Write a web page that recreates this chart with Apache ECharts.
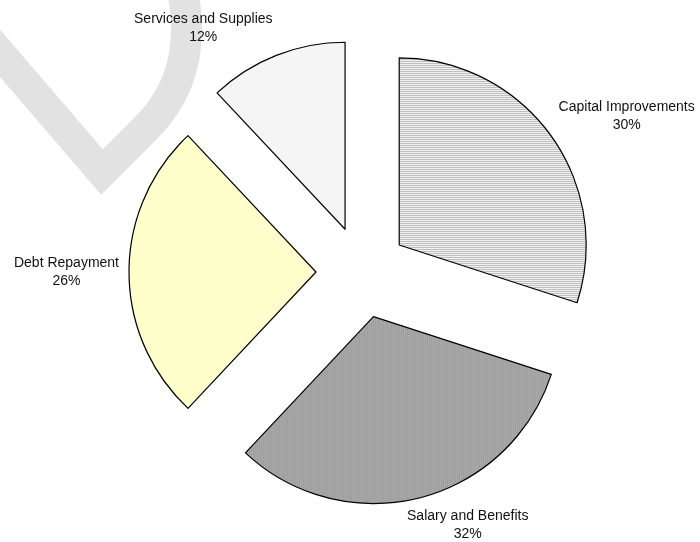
<!DOCTYPE html>
<html>
<head>
<meta charset="utf-8">
<script src="https://cdn.jsdelivr.net/npm/echarts@6/dist/echarts.min.js"></script>
<style>
html,body{margin:0;padding:0;background:#fff;}
#chart{width:700px;height:542px;}
</style>
</head>
<body>
<div id="chart"></div>
<script>
// ---- data ----
var categories = ['Capital Improvements', 'Salary and Benefits', 'Debt Repayment', 'Services and Supplies'];
var values = [30, 32, 26, 12];

// ---- layout config ----
var CX = 362, CY = 272, R = 187, OFF = 46;
var FONT_SIZE = 14, LINE_H = 18, FONT_FAMILY = 'Liberation Sans, Arial, sans-serif';

function makePattern(w, h, draw) {
  var c = document.createElement('canvas');
  c.width = w; c.height = h;
  var ctx = c.getContext('2d');
  draw(ctx);
  return { image: c, repeat: 'repeat' };
}
var patHoriz = makePattern(1, 2, function (ctx) {
  ctx.fillStyle = '#bdbdbd'; ctx.fillRect(0, 0, 1, 1);
  ctx.fillStyle = '#f3f3f3'; ctx.fillRect(0, 1, 1, 1);
});
var patVert = makePattern(2, 1, function (ctx) {
  ctx.fillStyle = '#7f7f7f'; ctx.fillRect(0, 0, 1, 1);
  ctx.fillStyle = '#c8c8c8'; ctx.fillRect(1, 0, 1, 1);
});
var patDots = makePattern(2, 2, function (ctx) {
  ctx.fillStyle = '#fdfdfd'; ctx.fillRect(0, 0, 2, 2);
  ctx.fillStyle = '#eeeeee'; ctx.fillRect(0, 0, 1, 1); ctx.fillRect(1, 1, 1, 1);
});
var fills = [patHoriz, patVert, '#ffffcc', patDots];

var total = values.reduce(function (a, b) { return a + b; }, 0);
var mids = [];
(function () {
  var acc = 0;
  for (var i = 0; i < values.length; i++) {
    mids.push((acc + values[i] / 2) / total * 2 * Math.PI); // clockwise from 12 o'clock
    acc += values[i];
  }
})();

function clamp(v) { return Math.max(-1, Math.min(1, v)); }

var measureCtx = document.createElement('canvas').getContext('2d');
measureCtx.font = FONT_SIZE + 'px ' + FONT_FAMILY;
function pctText(i) { return Math.round(values[i] / total * 100) + '%'; }
function labelWidth(i) {
  return Math.max(measureCtx.measureText(categories[i]).width, measureCtx.measureText(pctText(i)).width);
}

// labels placed just outside each exploded slice along its bisector
var labelGraphics = categories.map(function (name, i) {
  var a = mids[i];
  var dx = Math.sin(a), dy = -Math.cos(a);
  var ax = CX + OFF * dx, ay = CY + OFF * dy;
  var px = ax + (R + 10) * dx, py = ay + (R + 10) * dy;
  var hw = labelWidth(i) / 2, hh = LINE_H;
  return {
    type: 'text',
    silent: true,
    z: 10,
    style: {
      text: name + '\n' + pctText(i),
      x: px + hw * clamp(dx * 3),
      y: py + hh * clamp(dy * 1.2),
      textAlign: 'center',
      textVerticalAlign: 'middle',
      font: FONT_SIZE + 'px ' + FONT_FAMILY,
      lineHeight: LINE_H,
      fill: '#111'
    }
  };
});

// watermark stroke (decorative background)
var wm = [[-20, 30], [102, 172], [146, 128]];
(function () {
  var p0 = [146, 128], p1 = [200, 74], p2 = [182, -12];
  for (var k = 1; k <= 20; k++) {
    var t = k / 20, u = 1 - t;
    wm.push([u * u * p0[0] + 2 * u * t * p1[0] + t * t * p2[0],
             u * u * p0[1] + 2 * u * t * p1[1] + t * t * p2[1]]);
  }
})();

var chart = echarts.init(document.getElementById('chart'), null, { renderer: 'canvas' });
var data = categories.map(function (name, i) {
  var st = { color: fills[i], borderColor: '#000', borderWidth: 1.2 };
  return { name: name, value: values[i], selected: true, itemStyle: st, select: { itemStyle: st } };
});

chart.setOption({
  animation: false,
  backgroundColor: '#ffffff',
  graphic: [{
    type: 'polyline',
    z: -10,
    silent: true,
    shape: { points: wm },
    style: { fill: null, stroke: '#e2e2e2', lineWidth: 31, lineJoin: 'miter' }
  }].concat(labelGraphics),
  series: [{
    type: 'pie',
    center: [CX, CY],
    radius: [0, R],
    startAngle: 90,
    clockwise: true,
    selectedMode: 'multiple',
    selectedOffset: OFF,
    emphasis: { disabled: true, scale: false },
    label: { show: false },
    labelLine: { show: false },
    data: data
  }]
});
</script>
</body>
</html>
